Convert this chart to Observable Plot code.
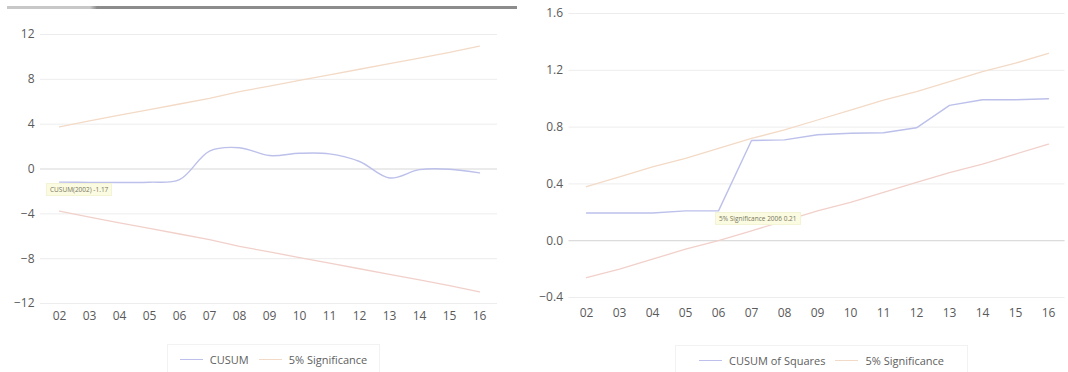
<!DOCTYPE html>
<html>
<head>
<meta charset="utf-8">
<script src="https://cdn.jsdelivr.net/npm/d3@7"></script>
<script src="https://cdn.jsdelivr.net/npm/@observablehq/plot@0.6"></script>
<style>
  html, body { margin: 0; padding: 0; background: #fff; }
  #wrap { position: relative; width: 1068px; height: 372px; overflow: hidden; background: #fff; font-family: "Open Sans", sans-serif; }
  .panel { position: absolute; top: 0; }
  .topbar { position: absolute; z-index: 5; top: 6px; left: 7px; width: 510px; height: 3px;
    background: linear-gradient(to right, #c8c8c8 0px, #c8c8c8 83px, #8c8c8c 90px, #8c8c8c 100%); }
  .legend { position: absolute; display: flex; align-items: center; justify-content: center;
    border: 1px solid #f2f2f2; font-size: 11px; color: #606060; box-sizing: border-box; }
  .legend .sw { display: inline-block; width: 23px; height: 1px; margin: 0 7px 0 0; }
  .legend .item { display: flex; align-items: center; margin: 0 5px; }
  .tipbox { position: absolute; z-index: 4; background: #fbfbe2; color: #77775c; font-size: 6.5px; line-height: 11px;
    padding: 0 3px; white-space: nowrap; border: 1px solid #f3f3d6; }
</style>
</head>
<body>
<div id="wrap">
  <div class="topbar"></div>
  <div id="left" class="panel" style="left:0px"></div>
  <div id="right" class="panel" style="left:530px"></div>
</div>
<script>
// ---- data ----
const years = ["02","03","04","05","06","07","08","09","10","11","12","13","14","15","16"];
const cusum = [-1.17,-1.19,-1.2,-1.18,-0.95,1.6,1.9,1.2,1.4,1.35,0.67,-0.8,-0.06,-0.02,-0.35];
const cusumUpper = [3.76,4.3,4.8,5.3,5.8,6.3,6.9,7.4,7.9,8.4,8.9,9.4,9.9,10.4,10.97];
const cusumLower = [-3.76,-4.3,-4.8,-5.3,-5.8,-6.3,-6.9,-7.4,-7.9,-8.4,-8.9,-9.4,-9.9,-10.4,-10.97];
const cusumTicks = [-12,-8,-4,0,4,8,12];

const cusumsq = [0.195,0.195,0.195,0.21,0.21,0.706,0.71,0.746,0.757,0.76,0.795,0.953,0.993,0.993,1.0];
const sqUpper = [0.38,0.45,0.52,0.58,0.65,0.72,0.78,0.85,0.92,0.99,1.05,1.12,1.19,1.25,1.32];
const sqLower = [-0.26,-0.20,-0.13,-0.06,0.00,0.07,0.14,0.21,0.27,0.34,0.41,0.48,0.54,0.61,0.68];
const sqTicks = [-0.4,0,0.4,0.8,1.2,1.6];

const lineColor = "#bcc0ea";
const sigColor = "#f3dac6";
const sigColor2 = "#f1d0ca";

const rows = (vals) => years.map((y, i) => ({year: y, v: vals[i]}));

const fontStyle = {fontFamily: "'Open Sans', sans-serif", fontSize: "12px", color: "#5a5a5a", background: "#fff", overflow: "visible"};

// ---- left: CUSUM ----
const left = Plot.plot({
  width: 530, height: 335,
  marginTop: 34, marginBottom: 32, marginLeft: 40, marginRight: 33,
  style: fontStyle,
  x: {type: "point", domain: years, padding: 0.5, label: null},
  y: {domain: [-12, 12], label: null},
  marks: [
    Plot.gridY(cusumTicks, {stroke: "#ededed", strokeOpacity: 1}),
    Plot.ruleY([0], {stroke: "#e0e0e0"}),
    Plot.axisX({tickSize: 0, tickPadding: 8, label: null}),
    Plot.axisY({ticks: cusumTicks, tickSize: 0, tickPadding: 6, label: null}),
    Plot.line(rows(cusumUpper), {x: "year", y: "v", stroke: sigColor, strokeWidth: 1.3}),
    Plot.line(rows(cusumLower), {x: "year", y: "v", stroke: sigColor2, strokeWidth: 1.3}),
    Plot.line(rows(cusum), {x: "year", y: "v", stroke: lineColor, strokeWidth: 1.4, curve: "catmull-rom"})
  ]
});
document.getElementById("left").appendChild(left);

// ---- right: CUSUM of Squares ----
const right = Plot.plot({
  width: 538, height: 335,
  marginTop: 13, marginBottom: 38, marginLeft: 38.5, marginRight: 3.5,
  style: fontStyle,
  x: {type: "point", domain: years, padding: 0.5, label: null},
  y: {domain: [-0.4, 1.6], label: null},
  marks: [
    Plot.gridY(sqTicks, {stroke: "#ededed", strokeOpacity: 1}),
    Plot.ruleY([0], {stroke: "#d8d8d8"}),
    Plot.axisX({tickSize: 0, tickPadding: 11, label: null}),
    Plot.axisY({ticks: sqTicks, tickSize: 0, tickPadding: 6, tickFormat: d3.format(".1f"), label: null}),
    Plot.line(rows(sqUpper), {x: "year", y: "v", stroke: sigColor, strokeWidth: 1.3}),
    Plot.line(rows(sqLower), {x: "year", y: "v", stroke: sigColor2, strokeWidth: 1.3}),
    Plot.line(rows(cusumsq), {x: "year", y: "v", stroke: lineColor, strokeWidth: 1.4})
  ]
});
document.getElementById("right").appendChild(right);

// ---- annotations (positioned via scales) ----
const wrap = document.getElementById("wrap");
function tip(plot, offsetX, year, value, text, dx, dy) {
  const sx = plot.scale("x"), sy = plot.scale("y");
  const el = document.createElement("div");
  el.className = "tipbox";
  el.textContent = text;
  el.style.left = (offsetX + sx.apply(year) + dx) + "px";
  el.style.top = (sy.apply(value) + dy) + "px";
  wrap.appendChild(el);
}
tip(left, 0, "02", cusum[0], "CUSUM(2002)  -1.17", -13, 1);
tip(right, 530, "06", cusumsq[4], "5% Significance 2006  0.21", -3, 2);

// ---- legends ----
function legend(items, l, t, w, h) {
  const el = document.createElement("div");
  el.className = "legend";
  el.style.left = l + "px"; el.style.top = t + "px";
  el.style.width = w + "px"; el.style.height = h + "px";
  for (const [label, color] of items) {
    const it = document.createElement("span");
    it.className = "item";
    const sw = document.createElement("span");
    sw.className = "sw"; sw.style.background = color;
    it.appendChild(sw);
    it.appendChild(document.createTextNode(label));
    el.appendChild(it);
  }
  wrap.appendChild(el);
}
legend([["CUSUM", lineColor], ["5% Significance", sigColor]], 167, 344, 213, 30);
legend([["CUSUM of Squares", lineColor], ["5% Significance", sigColor]], 675, 345, 293, 30);
</script>
</body>
</html>
